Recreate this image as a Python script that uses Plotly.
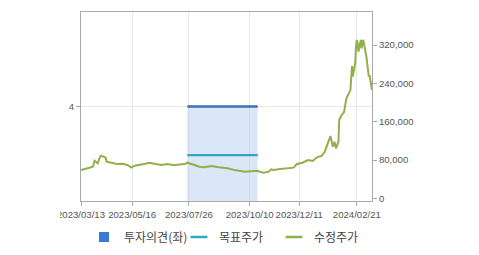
import plotly.graph_objects as go

price_dates = ["2023-03-13","2023-03-16","2023-03-21","2023-03-24","2023-03-28","2023-03-30","2023-04-03","2023-04-05","2023-04-07","2023-04-11","2023-04-13","2023-04-14","2023-04-20","2023-04-27","2023-05-04","2023-05-10","2023-05-15","2023-05-19","2023-05-31","2023-06-07","2023-06-14","2023-06-22","2023-06-29","2023-07-07","2023-07-17","2023-07-21","2023-07-24","2023-07-28","2023-08-02","2023-08-08","2023-08-14","2023-08-24","2023-09-01","2023-09-12","2023-09-21","2023-10-04","2023-10-12","2023-10-19","2023-10-27","2023-11-03","2023-11-06","2023-11-09","2023-11-17","2023-11-28","2023-12-04","2023-12-08","2023-12-15","2023-12-22","2023-12-28","2024-01-02","2024-01-08","2024-01-12","2024-01-17","2024-01-19","2024-01-22","2024-01-24","2024-01-26","2024-01-29","2024-01-30","2024-02-02","2024-02-05","2024-02-07","2024-02-08","2024-02-13","2024-02-14","2024-02-15","2024-02-16","2024-02-19","2024-02-20","2024-02-21","2024-02-22","2024-02-23","2024-02-26","2024-02-27","2024-02-28","2024-02-29","2024-03-04","2024-03-05","2024-03-06","2024-03-07","2024-03-08","2024-03-11"]
price_values = [59100,60500,62700,63500,66000,78500,73000,83500,89000,86500,84500,76500,74400,71600,72300,69600,64000,68000,71600,74400,71600,69600,71600,68900,71000,71600,74400,71600,69600,66000,64700,67500,64700,62700,59100,55600,57000,57700,53500,55600,60600,59100,61200,62700,64000,71600,74400,80000,77900,85600,88400,97300,118200,130100,107800,118000,104400,118200,163600,174000,180000,201800,209000,226000,268000,276000,254000,282000,316700,330700,323700,306000,330700,313000,327000,330700,296000,282000,261000,254000,257000,226000]

opinion_dates = ["2023-07-24", "2023-10-20"]
opinion_values = [4, 4]
target_dates = ["2023-07-24", "2023-10-20"]
target_values = [90000, 90000]

tick_dates = ["2023-03-13","2023-05-16","2023-07-26","2023-10-10","2023-12-11","2024-02-21"]
tick_labels = ["2023/03/13","2023/05/16","2023/07/26","2023/10/10","2023/12/11","2024/02/21"]
right_ticks = [0, 80000, 160000, 240000, 320000]

BLUE_FILL = "rgba(190,212,240,0.55)"
fig = go.Figure()
fig.add_trace(go.Scatter(x=opinion_dates, y=opinion_values, mode="lines", fill="tozeroy",
                         fillcolor=BLUE_FILL, line=dict(color="#3f6fb6", width=2.5),
                         showlegend=False, yaxis="y", hoverinfo="skip"))
fig.add_trace(go.Scatter(x=target_dates, y=target_values, mode="lines", showlegend=False,
                         line=dict(color="#2ea7c2", width=2.2), yaxis="y2"))
fig.add_trace(go.Scatter(x=price_dates, y=price_values, mode="lines", showlegend=False,
                         line=dict(color="#8fb04a", width=2), yaxis="y2"))
# legend entries
fig.add_trace(go.Scatter(x=[None], y=[None], mode="markers", name="투자의견(좌)",
                         marker=dict(symbol="square", size=10, color="#3b78d8"), yaxis="y"))
fig.add_trace(go.Scatter(x=[None], y=[None], mode="markers", name="목표주가",
                         marker=dict(symbol="line-ew", size=12, line=dict(color="#2ea7c2", width=2.5)), yaxis="y2"))
fig.add_trace(go.Scatter(x=[None], y=[None], mode="markers", name="수정주가",
                         marker=dict(symbol="line-ew", size=12, line=dict(color="#8fb04a", width=2.5)), yaxis="y2"))

axis_font = dict(family="Liberation Sans, Arial, sans-serif", size=9.6, color="#555")
fig.update_layout(
    width=479, height=255,
    margin=dict(l=81, r=107, t=12, b=54, autoexpand=False),
    paper_bgcolor="white", plot_bgcolor="white",
    xaxis=dict(type="date", range=["2023-03-13", "2024-03-11"], tickvals=tick_dates, ticktext=tick_labels,
               tickangle=0, automargin=False,
               showgrid=True, gridcolor="#e8e8e8", gridwidth=1, showline=True, linecolor="#aaa",
               mirror=True, ticks="outside", ticklen=4, tickcolor="#aaa", tickfont=axis_font, zeroline=False),
    yaxis=dict(range=[0, 8], tickvals=[4], ticktext=["4"], showgrid=True, gridcolor="#e8e8e8",
               automargin=False,
               showline=True, linecolor="#aaa", ticks="outside", ticklen=4, tickcolor="#aaa",
               tickfont=axis_font, zeroline=False),
    yaxis2=dict(range=[-5600, 389000], overlaying="y", side="right", tickvals=right_ticks,
                automargin=False,
                tickformat=",", showgrid=False, showline=True, linecolor="#aaa", ticks="outside",
                ticklen=4, tickcolor="#aaa", tickfont=axis_font, zeroline=False),
    legend=dict(orientation="h", x=0.5, xanchor="center", yref="container", y=1 - 237 / 255, yanchor="middle",
                font=dict(family="Noto Sans CJK KR", size=12, color="#444"),
                itemwidth=30, entrywidth=50, entrywidthmode="pixels", bgcolor="rgba(0,0,0,0)"),
    showlegend=True,
)
fig.add_shape(type="rect", xref="paper", yref="paper", x0=-0.3, x1=-0.072, y0=-0.25, y1=-0.01,
              fillcolor="white", line=dict(width=0), layer="above")
fig.write_html("out.html")
